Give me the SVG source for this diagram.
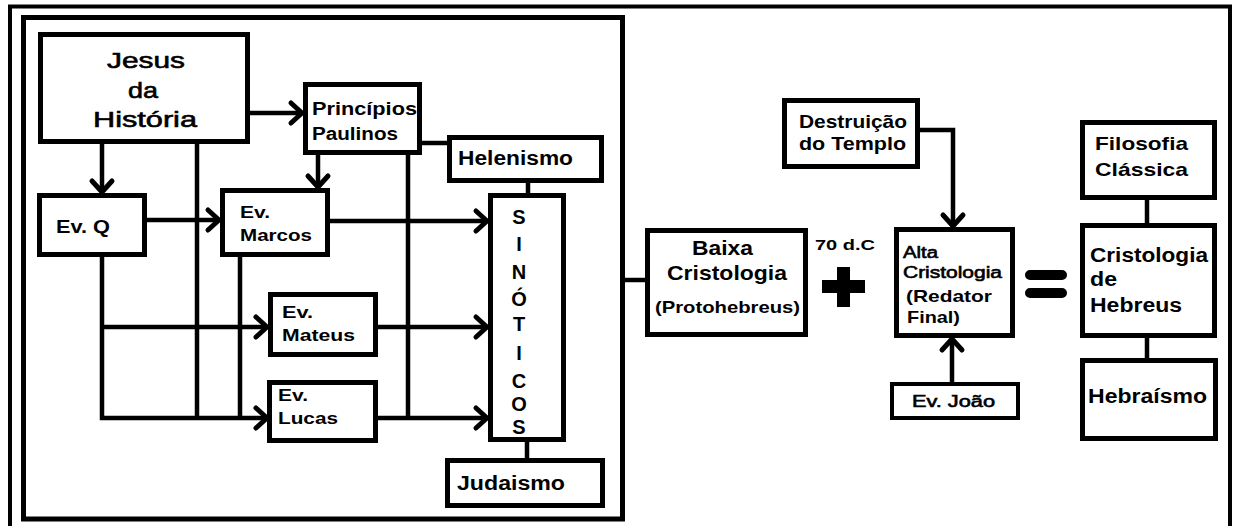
<svg xmlns="http://www.w3.org/2000/svg" width="1234" height="526" viewBox="0 0 1234 526">
  <style>
    .box { fill: #fff; stroke: #000; stroke-width: 5; }
    .thin { fill: #fff; stroke: #000; stroke-width: 4; }
    .wire { fill: none; stroke: #000; stroke-width: 4.5; }
    .arrow { fill: none; stroke: #000; stroke-width: 4.5; marker-end: url(#chevron); }
    text { font-family: "Liberation Sans", Arial, sans-serif; fill: #000; }
    .b { font-weight: bold; }
    .m { stroke: #000; stroke-width: 0.6; }
  </style>
  <defs>
    <marker id="chevron" markerUnits="userSpaceOnUse" viewBox="-14 -13 16 26" refX="0" refY="0" markerWidth="16" markerHeight="26" orient="auto" overflow="visible">
      <path d="M-11,-10 L0,0 L-11,10" fill="none" stroke="#000" stroke-width="5" stroke-linecap="round" stroke-linejoin="round"/>
    </marker>
  </defs>
  <rect width="1234" height="526" fill="#fff"/>

  <!-- page frames -->
  <path d="M10,526 V6.5 H1230 V526" fill="none" stroke="#000" stroke-width="4"/>
  <rect x="23.5" y="17.5" width="599" height="501.5" fill="none" stroke="#000" stroke-width="5"/>

  <!-- connectors -->
  <g id="connectors">
    <path class="wire" d="M197,144 V418"/>
    <path class="wire" d="M240,257 V418"/>
    <path class="wire" d="M408,155 V418"/>
    <path class="wire" d="M422,143 H447"/>
    <path class="wire" d="M528,183 V193"/>
    <path class="wire" d="M527,442 V458"/>
    <path class="wire" d="M622,280 H645"/>
    <path class="wire" d="M1147,200 V223"/>
    <path class="wire" d="M1147,338 V358"/>
    <path class="arrow" d="M250,113 H302"/>
    <path class="arrow" d="M102,144 V192"/>
    <path class="arrow" d="M147,220 H219"/>
    <path class="arrow" d="M318,155 V187"/>
    <path class="arrow" d="M330,221 H487"/>
    <path class="arrow" d="M102,257 V418 H267"/>
    <path class="arrow" d="M102,327 H267"/>
    <path class="arrow" d="M378,327 H487"/>
    <path class="arrow" d="M378,418 H487"/>
    <path class="arrow" d="M920,130 H953 V226"/>
    <path class="arrow" d="M952,382 V339"/>
  </g>

  <g id="jesus">
    <rect class="box" x="40.5" y="34.5" width="207" height="107"/>
    <text class="m" x="107" y="68" font-size="22" textLength="78" lengthAdjust="spacingAndGlyphs">Jesus</text>
    <text class="m" x="128" y="98" font-size="22" textLength="30" lengthAdjust="spacingAndGlyphs">da</text>
    <text class="m" x="93" y="127" font-size="22" textLength="104" lengthAdjust="spacingAndGlyphs">História</text>
  </g>

  <g id="principios">
    <rect class="box" x="305.5" y="84.5" width="114" height="68"/>
    <text class="b" x="312" y="115" font-size="18" textLength="105" lengthAdjust="spacingAndGlyphs">Princípios</text>
    <text class="b" x="312" y="140" font-size="18" textLength="86" lengthAdjust="spacingAndGlyphs">Paulinos</text>
  </g>

  <g id="ev-q">
    <rect class="box" x="39.5" y="195.5" width="105" height="59"/>
    <text class="b" x="56" y="233" font-size="18" textLength="54" lengthAdjust="spacingAndGlyphs">Ev. Q</text>
  </g>

  <g id="ev-marcos">
    <rect class="box" x="222.5" y="190.5" width="105" height="64"/>
    <text class="b" x="240" y="218" font-size="17" textLength="30" lengthAdjust="spacingAndGlyphs">Ev.</text>
    <text class="b" x="240" y="241" font-size="17" textLength="72" lengthAdjust="spacingAndGlyphs">Marcos</text>
  </g>

  <g id="ev-mateus">
    <rect class="box" x="270.5" y="294.5" width="105" height="60"/>
    <text class="b" x="282" y="318" font-size="17" textLength="31" lengthAdjust="spacingAndGlyphs">Ev.</text>
    <text class="b" x="282" y="341" font-size="17" textLength="73" lengthAdjust="spacingAndGlyphs">Mateus</text>
  </g>

  <g id="ev-lucas">
    <rect class="box" x="269.5" y="382.5" width="106" height="58"/>
    <text class="b" x="278" y="401" font-size="17" textLength="30" lengthAdjust="spacingAndGlyphs">Ev.</text>
    <text class="b" x="278" y="424" font-size="17" textLength="60" lengthAdjust="spacingAndGlyphs">Lucas</text>
  </g>

  <g id="helenismo">
    <rect class="box" x="449.5" y="137.5" width="152" height="43"/>
    <text class="b" x="458" y="165" font-size="20" textLength="115" lengthAdjust="spacingAndGlyphs">Helenismo</text>
  </g>

  <g id="sinoticos">
    <rect class="box" x="490.5" y="195.5" width="73" height="244"/>
    <g class="b" font-size="20" text-anchor="middle">
      <text x="519" y="224">S</text>
      <text x="519" y="251">I</text>
      <text x="519" y="279">N</text>
      <text x="519" y="306">Ó</text>
      <text x="519" y="331">T</text>
      <text x="519" y="360">I</text>
      <text x="519" y="388">C</text>
      <text x="519" y="411">O</text>
      <text x="519" y="434">S</text>
    </g>
  </g>

  <g id="judaismo">
    <rect class="box" x="447.5" y="460.5" width="155" height="45"/>
    <text class="b" x="457" y="490" font-size="20" textLength="108" lengthAdjust="spacingAndGlyphs">Judaismo</text>
  </g>

  <g id="baixa-cristologia">
    <rect class="box" x="647.5" y="230.5" width="158" height="104"/>
    <text class="b" x="692" y="255" font-size="21" textLength="61" lengthAdjust="spacingAndGlyphs">Baixa</text>
    <text class="b" x="667" y="280" font-size="21" textLength="120" lengthAdjust="spacingAndGlyphs">Cristologia</text>
    <text class="b" x="655" y="313" font-size="17" textLength="145" lengthAdjust="spacingAndGlyphs">(Protohebreus)</text>
  </g>

  <g id="data-70">
    <text class="b" x="815" y="250" font-size="15" textLength="60" lengthAdjust="spacingAndGlyphs">70 d.C</text>
  </g>

  <g id="plus">
    <rect x="822" y="280" width="43" height="13" fill="#000"/>
    <rect x="837" y="267" width="13" height="40" fill="#000"/>
  </g>

  <g id="destruicao">
    <rect class="box" x="784.5" y="100.5" width="133" height="66"/>
    <text class="b" x="799" y="128" font-size="19" textLength="108" lengthAdjust="spacingAndGlyphs">Destruição</text>
    <text class="b" x="799" y="150" font-size="19" textLength="107" lengthAdjust="spacingAndGlyphs">do Templo</text>
  </g>

  <g id="alta-cristologia">
    <rect class="box" x="896.5" y="229.5" width="116" height="106"/>
    <text class="m" x="903" y="258" font-size="16" textLength="35" lengthAdjust="spacingAndGlyphs">Alta</text>
    <text class="m" x="903" y="278" font-size="16" textLength="99" lengthAdjust="spacingAndGlyphs">Cristologia</text>
    <text class="b" x="906" y="302" font-size="17" textLength="86" lengthAdjust="spacingAndGlyphs">(Redator</text>
    <text class="b" x="907" y="323" font-size="17" textLength="53" lengthAdjust="spacingAndGlyphs">Final)</text>
  </g>

  <g id="ev-joao">
    <rect class="thin" x="892" y="384" width="126" height="34"/>
    <text class="m" x="912" y="407" font-size="16" textLength="83" lengthAdjust="spacingAndGlyphs">Ev. João</text>
  </g>

  <g id="equals">
    <path d="M1030,275 H1062 M1030,293 H1062" fill="none" stroke="#000" stroke-width="10" stroke-linecap="round"/>
  </g>

  <g id="filosofia">
    <rect class="box" x="1082.5" y="122.5" width="132" height="75"/>
    <text class="b" x="1095" y="150" font-size="19" textLength="93" lengthAdjust="spacingAndGlyphs">Filosofia</text>
    <text class="b" x="1095" y="176" font-size="19" textLength="93" lengthAdjust="spacingAndGlyphs">Clássica</text>
  </g>

  <g id="cristologia-hebreus">
    <rect class="box" x="1082.5" y="225.5" width="132" height="110"/>
    <text class="b" x="1090" y="262" font-size="20" textLength="118" lengthAdjust="spacingAndGlyphs">Cristologia</text>
    <text class="b" x="1090" y="286" font-size="20" textLength="27" lengthAdjust="spacingAndGlyphs">de</text>
    <text class="b" x="1090" y="312" font-size="20" textLength="92" lengthAdjust="spacingAndGlyphs">Hebreus</text>
  </g>

  <g id="hebraismo">
    <rect class="box" x="1082.5" y="360.5" width="133" height="78"/>
    <text class="b" x="1088" y="403" font-size="20" textLength="119" lengthAdjust="spacingAndGlyphs">Hebraísmo</text>
  </g>
</svg>
